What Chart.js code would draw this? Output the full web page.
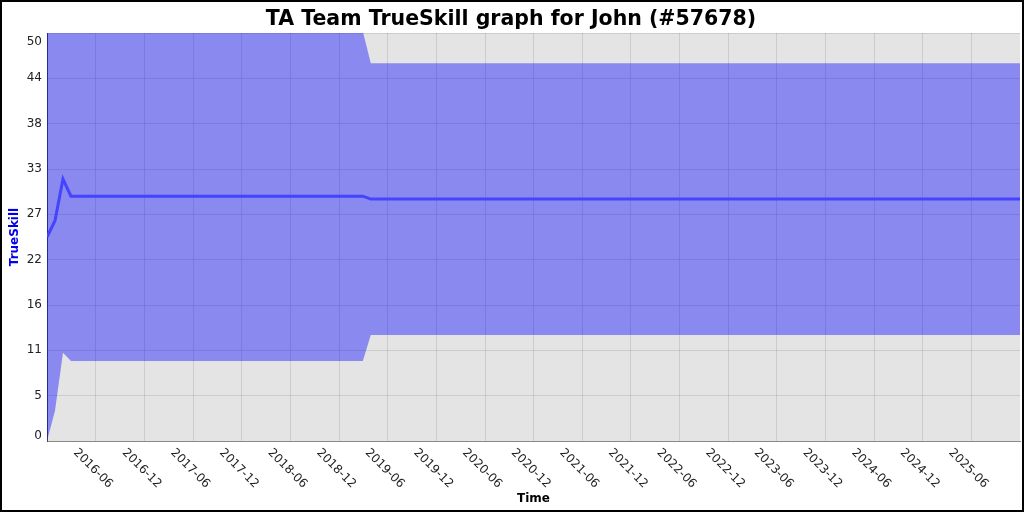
<!DOCTYPE html>
<html>
<head>
<meta charset="utf-8">
<script src="https://cdn.jsdelivr.net/npm/chart.js@4.4.1/dist/chart.umd.min.js"></script>
<style>
  body { margin: 0; background: #fff; }
  #wrap { width: 1024px; height: 512px; box-sizing: border-box; border: 2px solid #000; }
  canvas { display: block; }
</style>
</head>
<body>
<div id="wrap"><canvas id="skillChart" width="1020" height="508"></canvas></div>
<script>
// rating history (mean and the mean +/- 3 sigma band)
const dates = ['2015-11-30', '2015-12-30', '2016-01-29', '2016-02-28', '2019-02-28', '2019-03-30', '2025-12-01'];
const mean  = [25.0, 27.0, 32.1, 30.0, 30.0, 29.65, 29.65];
const lower = [0.0, 3.7, 10.8, 9.8, 9.8, 13.0, 13.0];
const upper = [50.0, 50.3, 53.4, 50.2, 50.2, 46.3, 46.3];

const xTickLabels = ['2016-06', '2016-12', '2017-06', '2017-12', '2018-06', '2018-12', '2019-06', '2019-12',
  '2020-06', '2020-12', '2021-06', '2021-12', '2022-06', '2022-12', '2023-06', '2023-12', '2024-06', '2024-12', '2025-06'];

const FONT = '"DejaVu Sans", "Liberation Sans", sans-serif';

function toPoints(values) {
    return values.map((v, i) => ({ x: Date.parse(dates[i]), y: v }));
}

// plot area background
const plotBackground = {
    id: 'plotBackground',
    beforeDraw(chart) {
        const a = chart.chartArea;
        const ctx = chart.ctx;
        ctx.save();
        ctx.fillStyle = '#e4e4e4';
        ctx.fillRect(a.left, a.top, a.right - a.left, a.bottom - a.top);
        ctx.restore();
    }
};

// tick labels: x slanted below the ticks, y kept inside the plot height
const axisLabels = {
    id: 'axisLabels',
    afterDraw(chart) {
        const xs = chart.scales.x;
        const ys = chart.scales.y;
        const ctx = chart.ctx;
        ctx.save();
        ctx.font = '12px ' + FONT;
        ctx.fillStyle = '#222';
        ctx.textAlign = 'center';
        ctx.textBaseline = 'middle';
        xTickLabels.forEach(label => {
            const px = xs.getPixelForValue(Date.parse(label + '-01'));
            ctx.save();
            ctx.translate(px - 3, xs.top + 27.5);
            ctx.rotate(Math.PI / 4);
            ctx.fillText(label, 0, 0);
            ctx.restore();
        });

        ctx.textAlign = 'right';
        ys.ticks.forEach(t => {
            let py = ys.getPixelForValue(t.value);
            py = Math.min(Math.max(py, ys.top + 9), ys.bottom - 5);
            ctx.fillText(String(Math.floor(t.value + 1e-6)), ys.right - 5, py);
        });
        ctx.restore();
    }
};

new Chart(document.getElementById('skillChart'), {
    type: 'line',
    data: {
        datasets: [{
            label: 'TrueSkill',
            data: toPoints(mean),
            borderColor: '#4444ff',
            borderWidth: 3,
            pointRadius: 0,
            fill: false
        }, {
            label: 'lower',
            data: toPoints(lower),
            borderWidth: 0,
            borderColor: 'rgba(0,0,0,0)',
            pointRadius: 0,
            fill: false
        }, {
            label: 'upper',
            data: toPoints(upper),
            borderWidth: 0,
            borderColor: 'rgba(0,0,0,0)',
            backgroundColor: 'rgba(0, 0, 255, 0.4)',
            pointRadius: 0,
            fill: '-1'
        }]
    },
    options: {
        responsive: false,
        animation: false,
        layout: { padding: { left: 0, right: 2, top: 0, bottom: 0 } },
        plugins: {
            legend: { display: false },
            tooltip: { enabled: false },
            title: {
                display: true,
                text: 'TA Team TrueSkill graph for John (#57678)',
                color: '#000',
                font: { family: FONT, size: 20.5, weight: 'bold' },
                padding: { top: 5, bottom: 1.4 }
            }
        },
        scales: {
            x: {
                type: 'linear',
                min: Date.parse(dates[0]),
                max: Date.parse(dates[dates.length - 1]),
                afterBuildTicks(scale) {
                    scale.ticks = xTickLabels.map(s => ({ value: Date.parse(s + '-01') }));
                },
                afterFit(scale) { scale.height = 69; },
                ticks: { display: false },
                grid: { color: 'rgba(0,0,0,0.1)', drawTicks: false },
                border: { color: '#888', width: 1 },
                title: {
                    display: true,
                    text: 'Time',
                    color: '#000',
                    font: { family: FONT, size: 12, weight: 'bold' },
                    padding: { top: 0, bottom: 4 }
                }
            },
            y: {
                min: 0,
                max: 50,
                afterFit(scale) { scale.width = 45; },
                ticks: {
                    count: 10,
                    padding: 5,
                    color: 'rgba(0,0,0,0)',
                    font: { family: FONT, size: 12 }
                },
                grid: { color: 'rgba(0,0,0,0.1)', drawTicks: false },
                border: { color: '#444', width: 1 },
                title: {
                    display: true,
                    text: 'TrueSkill',
                    color: '#0000ee',
                    font: { family: FONT, size: 12, weight: 'bold' },
                    padding: { top: 6, bottom: 0 }
                }
            }
        }
    },
    plugins: [plotBackground, axisLabels]
});
</script>
</body>
</html>
